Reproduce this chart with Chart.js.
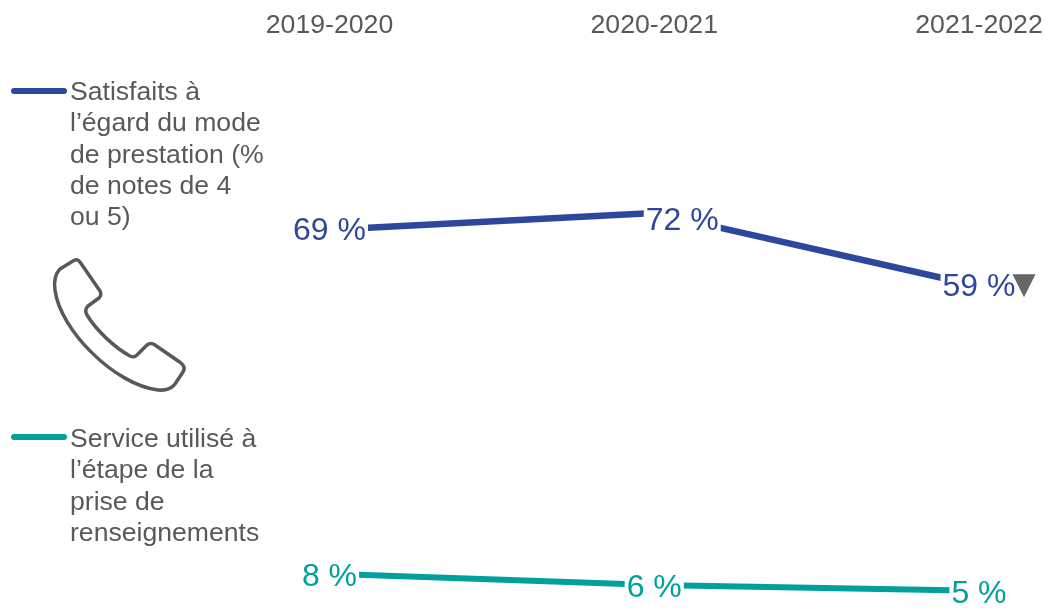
<!DOCTYPE html>
<html lang="fr">
<head>
<meta charset="utf-8">
<title>Mode de prestation</title>
<script src="https://cdn.jsdelivr.net/npm/chart.js@4"></script>
<style>
  html, body { margin: 0; padding: 0; background: #fff; }
  #wrap { position: relative; width: 1051px; height: 613px; overflow: hidden; }
  #chart { position: absolute; left: 0; top: 0; }
  .legend-text {
    position: absolute; left: 70px; width: 200px;
    font: 26.6px/31.3px "Liberation Sans", Arial, sans-serif; color: #595959;
  }
  .legend-key { position: absolute; left: 11px; width: 56px; height: 6px; border-radius: 3px; }
  #phone { position: absolute; left: 0; top: 0; }
</style>
</head>
<body>
<div id="wrap">
  <canvas id="chart" width="1051" height="613"></canvas>
  <div class="legend-key" style="top:88px;background:#2E479D"></div>
  <div class="legend-text" style="top:76px">Satisfaits à<br>l’égard du mode<br>de prestation (%<br>de notes de 4<br>ou 5)</div>
  <div class="legend-key" style="top:434px;background:#00A09B"></div>
  <div class="legend-text" style="top:423px">Service utilisé à<br>l’étape de la<br>prise de<br>renseignements</div>
  <svg id="phone" width="300" height="420" fill="none" stroke="#595959" stroke-width="3.5" stroke-linejoin="round">
    <path d="M73 261 Q77 258 80 262 L100 291 Q102 295 99 298 L88 306 Q84 310 87 315 C96 330 115 348 130 356 Q134 358 137 355 L147 345 Q151 342 155 345 L181 363 Q186 367 183 372 L175 384 Q170 391 158 390 C115 385 60 330 55 290 Q53 276 60 269 Z"/>
  </svg>
</div>
<script>
const years = ['2019-2020', '2020-2021', '2021-2022'];
const satisfaits = [69, 72, 59];
const etapeRenseignements = [8, 6, 5];
const baisseSignificative = [false, false, true];

const BLUE = '#2E479D';
const TEAL = '#00A09B';
const GREY = '#595959';

// value labels sit on the line, with a white box cutting the line behind them
const valueLabels = {
  id: 'valueLabels',
  afterDatasetsDraw(chart) {
    const ctx = chart.ctx;
    ctx.save();
    ctx.font = '32px "Liberation Sans", Arial, sans-serif';
    ctx.textAlign = 'center';
    ctx.textBaseline = 'middle';
    chart.data.datasets.forEach((ds, i) => {
      chart.getDatasetMeta(i).data.forEach((pt, j) => {
        const text = ds.data[j] + ' %';
        const shiftX = (i === 0 && j === 1) ? 28 : 0; // 72 % is pushed off its point
        const shiftY = i === 0 ? (j === 1 ? 8 : 1) : 3;
        const w = ctx.measureText(text).width;
        const x = pt.x + shiftX;
        const y = pt.y + shiftY;
        ctx.fillStyle = '#fff';
        ctx.fillRect(x - w / 2 - 2, pt.y - 20, w + 4, 40);
        ctx.fillStyle = ds.borderColor;
        ctx.fillText(text, x, y);
        if (ds.flags && ds.flags[j]) {
          ctx.fillStyle = '#666666';
          ctx.beginPath();
          ctx.moveTo(x + w / 2 - 3, y - 13);
          ctx.lineTo(x + w / 2 + 20, y - 13);
          ctx.lineTo(x + w / 2 + 8.5, y + 10);
          ctx.closePath();
          ctx.fill();
        }
      });
    });
    ctx.restore();
  }
};

new Chart(document.getElementById('chart'), {
  type: 'line',
  data: {
    labels: years,
    datasets: [
      { label: 'Satisfaits', data: satisfaits, borderColor: BLUE, borderWidth: 6.5, flags: baisseSignificative },
      { label: 'Service utilisé', data: etapeRenseignements, borderColor: TEAL, borderWidth: 6 }
    ]
  },
  options: {
    responsive: false,
    animation: false,
    layout: { padding: { left: 329.5, right: 72, top: 9, bottom: 16.6 } },
    elements: { point: { radius: 0 }, line: { tension: 0, borderCapStyle: 'butt' } },
    plugins: { legend: { display: false }, tooltip: { enabled: false } },
    scales: {
      x: {
        position: 'top',
        afterFit(scale) {
          scale.height = 46;
          scale.paddingLeft = 0;
          scale.paddingRight = 0;
        },
        grid: { display: false, drawTicks: false },
        border: { display: false },
        ticks: {
          color: GREY,
          padding: 13,
          maxRotation: 0,
          autoSkip: false,
          font: { family: '"Liberation Sans", Arial, sans-serif', size: 26.67 }
        }
      },
      y: { display: false, min: 4, max: 100 }
    }
  },
  plugins: [valueLabels]
});
</script>
</body>
</html>
